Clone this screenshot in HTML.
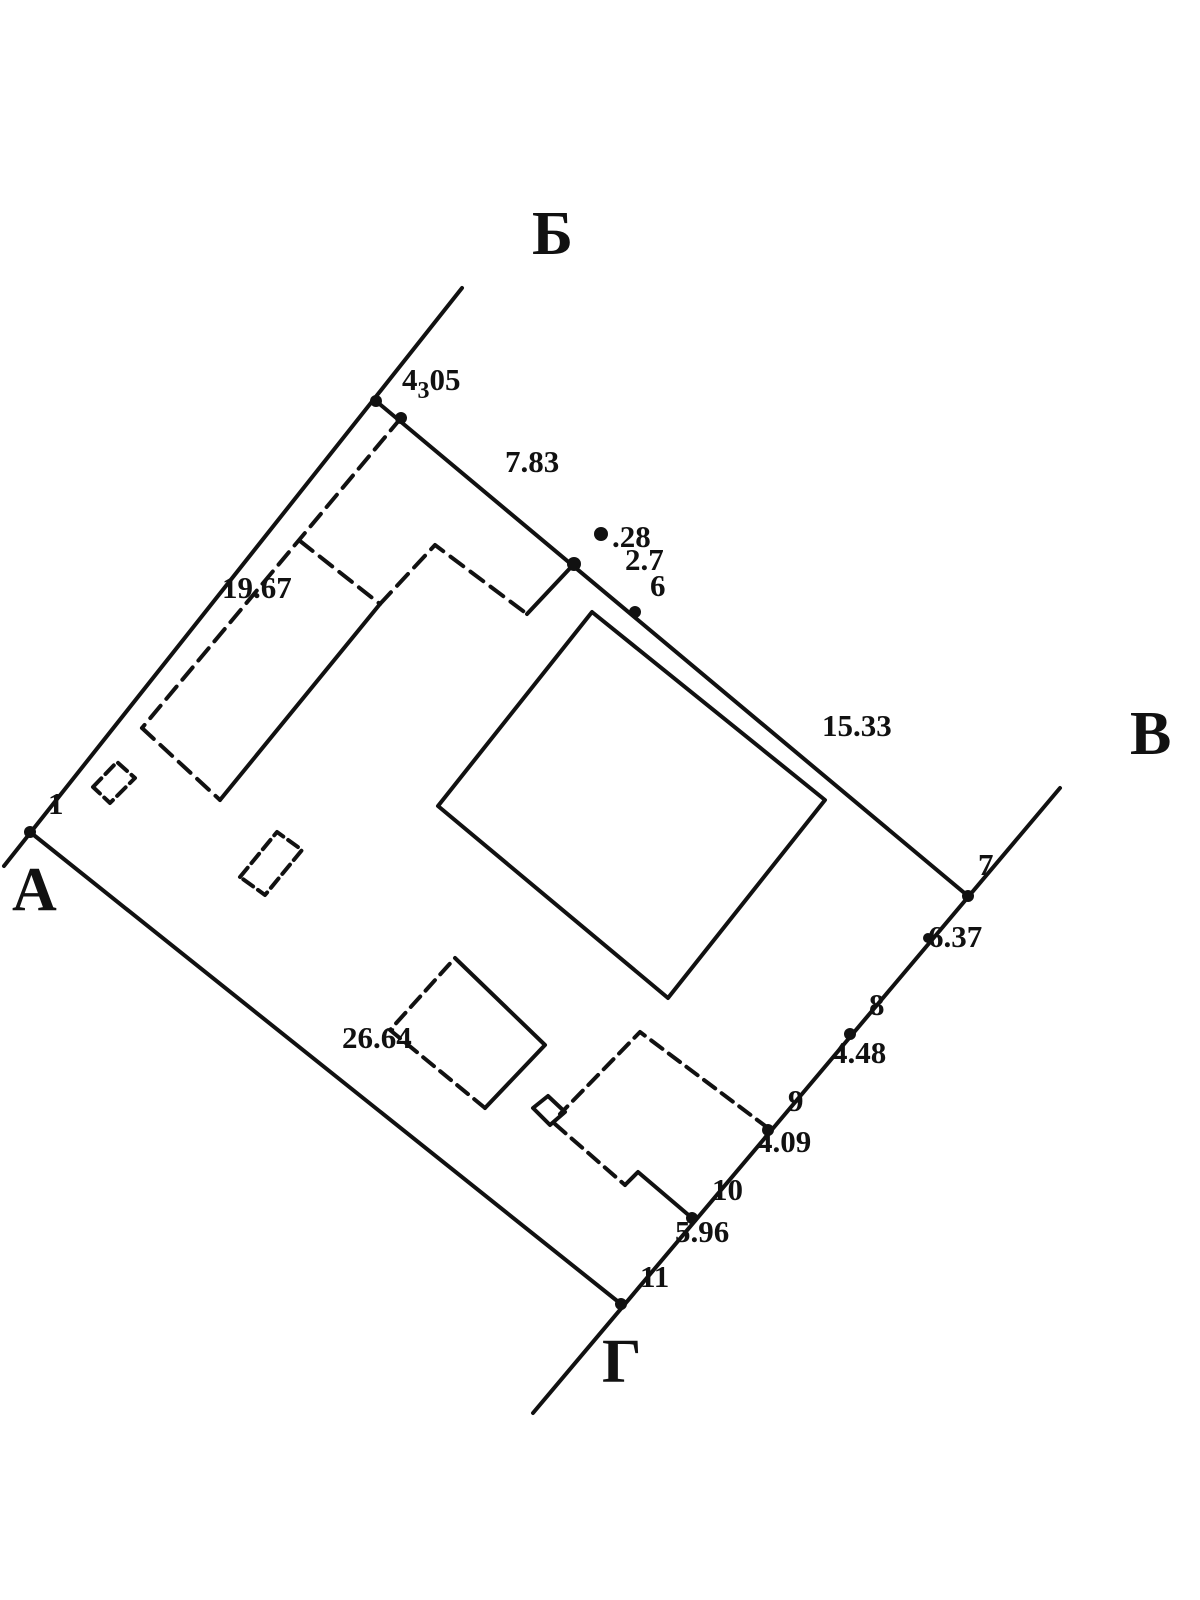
<!DOCTYPE html>
<html><head><meta charset="utf-8"><style>
html,body{margin:0;padding:0;background:#fff;}
svg{display:block;}
text{font-family:"Liberation Serif",serif;font-weight:bold;fill:#111;}
</style></head><body>
<svg width="1200" height="1600" viewBox="0 0 1200 1600" xmlns="http://www.w3.org/2000/svg">
<g stroke="#111" stroke-width="4" fill="none" stroke-linecap="round" stroke-linejoin="round">
<line x1="4" y1="866" x2="462" y2="288"/>
<line x1="376" y1="401" x2="968" y2="896"/>
<line x1="1060" y1="788" x2="533" y2="1413"/>
<line x1="30" y1="832" x2="621" y2="1304"/>
<g stroke-dasharray="16,9">
<line x1="401" y1="418" x2="142" y2="728"/>
<line x1="142" y1="728" x2="220" y2="800"/>
<line x1="300" y1="541" x2="380" y2="604"/>
<polyline points="380,604 435,545 527,614"/>
</g>
<line x1="220" y1="800" x2="380" y2="604"/>
<line x1="527" y1="614" x2="574" y2="564"/>
<polygon points="592,612 825,800 668,998 438,806"/>
<polygon stroke-dasharray="12,6" points="93,787 117,762 135,778 110,803"/>
<polygon stroke-dasharray="12,6" points="240,877 277,832 302,850 265,895"/>
<polyline points="455,958 545,1045 485,1108"/>
<polyline stroke-dasharray="14,8" points="485,1108 390,1030 455,958"/>
<g stroke-dasharray="14,8">
<polyline points="768,1128 640,1032 560,1114"/>
<line x1="555" y1="1124" x2="625" y2="1185"/>
</g>
<polyline points="625,1185 638,1172 692,1218"/>
<polygon points="533,1108 548,1096 565,1112 550,1125"/>
</g>
<g fill="#111">
<circle cx="30" cy="832" r="6"/>
<circle cx="376" cy="401" r="6"/>
<circle cx="401" cy="418" r="6"/>
<circle cx="574" cy="564" r="7"/>
<circle cx="635" cy="612" r="6"/>
<circle cx="968" cy="896" r="6"/>
<circle cx="928" cy="938" r="5"/>
<circle cx="850" cy="1034" r="6"/>
<circle cx="768" cy="1130" r="6"/>
<circle cx="692" cy="1218" r="6"/>
<circle cx="621" cy="1304" r="6"/>
<circle cx="601" cy="534" r="7"/>
</g>
<g font-size="31">
<text x="402" y="390">4<tspan font-size="24" dy="8">3</tspan><tspan dy="-8">05</tspan></text>
<text x="505" y="472">7.83</text>
<text x="612" y="547">.28</text>
<text x="625" y="570">2.7</text>
<text x="650" y="596">6</text>
<text x="222" y="598">19.67</text>
<text x="822" y="736">15.33</text>
<text x="978" y="875">7</text>
<text x="928" y="947">6.37</text>
<text x="869" y="1015">8</text>
<text x="832" y="1063">4.48</text>
<text x="788" y="1111">9</text>
<text x="757" y="1152">4.09</text>
<text x="712" y="1200">10</text>
<text x="675" y="1242">5.96</text>
<text x="640" y="1287">11</text>
<text x="342" y="1048">26.64</text>
<text x="48" y="814">1</text>
</g>
<g font-size="62">
<text x="532" y="254">Б</text>
<text x="1130" y="754">В</text>
<text x="12" y="910">А</text>
<text x="602" y="1382">Г</text>
</g>
</svg>
</body></html>
